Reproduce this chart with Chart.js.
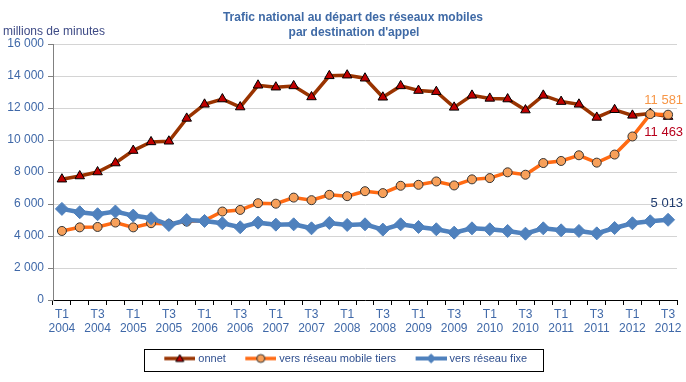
<!DOCTYPE html>
<html>
<head>
<meta charset="utf-8">
<script src="https://cdn.jsdelivr.net/npm/chart.js@4/dist/chart.umd.min.js"></script>
<style>
html,body{margin:0;padding:0;background:#fff;}
#wrap{width:686px;height:382px;position:relative;}
</style>
</head>
<body>
<div id="wrap"><canvas id="c" width="686" height="382"></canvas></div>
<script>
const quarters = ['T1','T2','T3','T4'];
const years = ['2004','2005','2006','2007','2008','2009','2010','2011','2012'];
const categories = [];
years.forEach(function(y){ quarters.forEach(function(q){ if (!(y === '2012' && q === 'T4')) categories.push(q + ' ' + y); }); });

const onnet = [7550, 7750, 8000, 8560, 9340, 9880, 9920, 11350, 12230, 12560, 12060, 13420, 13300, 13380, 12690, 14010, 14050, 13860, 12670, 13380, 13090, 13020, 12040, 12790, 12600, 12560, 11870, 12790, 12400, 12230, 11410, 11890, 11540, 11650, 11463];
const mobileTiers = [4315, 4540, 4565, 4840, 4540, 4800, 4750, 4900, 4960, 5530, 5630, 6050, 6020, 6400, 6240, 6575, 6490, 6800, 6680, 7140, 7200, 7410, 7160, 7540, 7620, 7980, 7830, 8560, 8690, 9045, 8585, 9090, 10220, 11620, 11581];
const fixe = [5695, 5485, 5360, 5530, 5275, 5110, 4690, 5000, 4940, 4795, 4545, 4835, 4710, 4730, 4480, 4815, 4690, 4730, 4400, 4730, 4565, 4420, 4210, 4480, 4420, 4315, 4145, 4480, 4355, 4315, 4165, 4500, 4795, 4920, 5013];
const seriesLabels = ['onnet', 'vers réseau mobile tiers', 'vers réseau fixe'];
const yTicks = [0, 2000, 4000, 6000, 8000, 10000, 12000, 14000, 16000];
const titleLines = ['Trafic national au départ des réseaux mobiles', "par destination d'appel"];
const yAxisTitle = 'millions de minutes';

const FONT = "'Liberation Sans', Arial, sans-serif";
function fmt(v){ return String(v).replace(/\B(?=(\d{3})+(?!\d))/g, ' '); }

const LEG_W = 43, LEG_FONT = 11, LEG_PAD = 5;
// legend icon: image 48 wide, centred at x + LEG_W/2; line occupies its right 31 px
function legendIcon(lineColor, lineWidth, style, fill, stroke, r) {
  const c = document.createElement('canvas');
  c.width = 48; c.height = 14;
  const g = c.getContext('2d');
  g.clearRect(0, 0, 48, 14);
  const x0 = 17, x1 = 48, mx = 32.5, my = 7;
  g.strokeStyle = lineColor; g.lineWidth = lineWidth;
  g.beginPath(); g.moveTo(x0, my); g.lineTo(x1, my); g.stroke();
  g.fillStyle = fill; g.strokeStyle = stroke; g.lineWidth = 1;
  g.beginPath();
  if (style === 'triangle') { g.moveTo(mx, my - r); g.lineTo(mx + r, my + r * 0.75); g.lineTo(mx - r, my + r * 0.75); g.closePath(); }
  else if (style === 'circle') { g.arc(mx, my, r, 0, Math.PI * 2); }
  else { g.moveTo(mx, my - r); g.lineTo(mx + r, my); g.lineTo(mx, my + r); g.lineTo(mx - r, my); g.closePath(); }
  g.fill(); g.stroke();
  return c;
}

const icons = [
  legendIcon('#993300', 3.5, 'triangle', '#c00000', '#000', 4),
  legendIcon('#ff6a13', 3.5, 'circle', '#f7a05a', '#333', 4),
  legendIcon('#4f81bd', 4, 'diamond', '#4f81bd', '#4f81bd', 4.5)
];

const extrasPlugin = {
  id: 'extras',
  afterDraw(chart) {
    const ctx = chart.ctx;
    const xs = chart.scales.x, ys = chart.scales.y;
    ctx.save();
    // title
    ctx.fillStyle = '#3f6aa6';
    ctx.font = 'bold 12px ' + FONT;
    ctx.textAlign = 'center'; ctx.textBaseline = 'middle';
    ctx.fillText(titleLines[0], 353, 18);
    ctx.fillText(titleLines[1], 354, 33);
    // y axis title
    ctx.fillStyle = '#3d4a85';
    ctx.font = '12px ' + FONT;
    ctx.textAlign = 'left';
    ctx.fillText(yAxisTitle, 3, 32);
    // end labels
    const last = categories.length - 1;
    const xr = xs.getPixelForValue(last) + 15;
    ctx.font = '13px ' + FONT;
    ctx.textAlign = 'right';
    ctx.fillStyle = '#f79646';
    ctx.fillText(fmt(mobileTiers[last]), xr, ys.getPixelForValue(mobileTiers[last]) - 14);
    ctx.fillStyle = '#b8001c';
    ctx.fillText(fmt(onnet[last]), xr, ys.getPixelForValue(onnet[last]) + 16);
    ctx.fillStyle = '#1f3b6e';
    ctx.fillText(fmt(fixe[last]), xr, ys.getPixelForValue(fixe[last]) - 16);
    // legend border
    const lg = chart.legend;
    const hb = lg && lg.legendHitBoxes;
    if (hb && hb.length) {
      ctx.font = LEG_FONT + 'px ' + FONT;
      const lastIdx = hb.length - 1;
      const l = hb[0].left + (LEG_W / 2 - 24 + 17);
      const r = hb[lastIdx].left + LEG_W + LEG_FONT / 2 + ctx.measureText(lg.legendItems[lastIdx].text).width;
      const cy = hb[0].top + hb[0].height / 2;
      ctx.strokeStyle = '#000';
      ctx.lineWidth = 1;
      const bl = Math.round(l - 20);
      ctx.strokeRect(bl + 0.5, Math.round(cy - 10) + 0.5, Math.round(r + 16) - bl, 22);
    }
    ctx.restore();
  }
};

new Chart(document.getElementById('c'), {
  type: 'line',
  data: {
    labels: categories,
    datasets: [
      { label: seriesLabels[0], data: onnet, borderColor: '#993300', borderWidth: 3.5, pointStyle: 'triangle', pointRadius: 5.5, pointBackgroundColor: '#c00000', pointBorderColor: '#000', pointBorderWidth: 1, tension: 0, order: 3 },
      { label: seriesLabels[1], data: mobileTiers, borderColor: '#ff6a13', borderWidth: 3.5, pointStyle: 'circle', pointRadius: 4.5, pointBackgroundColor: '#f7a05a', pointBorderColor: '#333', pointBorderWidth: 1, tension: 0, order: 2 },
      { label: seriesLabels[2], data: fixe, borderColor: '#4f81bd', borderWidth: 4.5, pointStyle: 'rectRot', pointRadius: 6.5, pointBackgroundColor: '#4f81bd', pointBorderColor: '#4f81bd', pointBorderWidth: 1, tension: 0, order: 1 }
    ]
  },
  options: {
    responsive: false,
    animation: false,
    devicePixelRatio: 1,
    layout: { padding: { top: 44, left: 0, right: 9, bottom: 8 } },
    plugins: {
      title: { display: false },
      tooltip: { enabled: false },
      legend: {
        display: true,
        position: 'bottom',
        labels: {
          usePointStyle: true,
          pointStyleWidth: LEG_W,
          boxHeight: 14,
          padding: LEG_PAD,
          color: '#2f4f8f',
          font: { family: FONT, size: LEG_FONT },
          generateLabels: function(chart) {
            return chart.data.datasets.map(function(ds, i) {
              return { text: ds.label, pointStyle: icons[i], fillStyle: 'transparent', strokeStyle: 'transparent', lineWidth: 0, datasetIndex: i, fontColor: '#2f4f8f' };
            });
          }
        }
      }
    },
    scales: {
      x: {
        type: 'category',
        offset: true,
        grid: { offset: true, drawOnChartArea: false, drawTicks: true, tickLength: 5, tickColor: '#000', color: '#000' },
        border: { color: '#000', width: 1 },
        ticks: {
          autoSkip: false, maxRotation: 0, minRotation: 0, padding: 2,
          color: '#3f68a8', font: { family: FONT, size: 12 },
          callback: function(v, i) { return i % 2 === 0 ? categories[i].split(' ') : ''; }
        },
        afterFit: function(s) { s.height = 48; }
      },
      y: {
        min: 0, max: 16000,
        afterBuildTicks: function(s) { s.ticks = yTicks.map(function(v){ return { value: v }; }); },
        grid: { color: '#d4d4d4', lineWidth: 1, drawTicks: true, tickLength: 5, tickColor: '#808080' },
        border: { color: '#808080', width: 1 },
        ticks: { padding: 4, color: '#3f68a8', font: { family: FONT, size: 12 }, callback: function(v){ return fmt(v); } },
        afterFit: function(s) { s.width = 53; }
      }
    }
  },
  plugins: [extrasPlugin]
});
</script>
</body>
</html>
